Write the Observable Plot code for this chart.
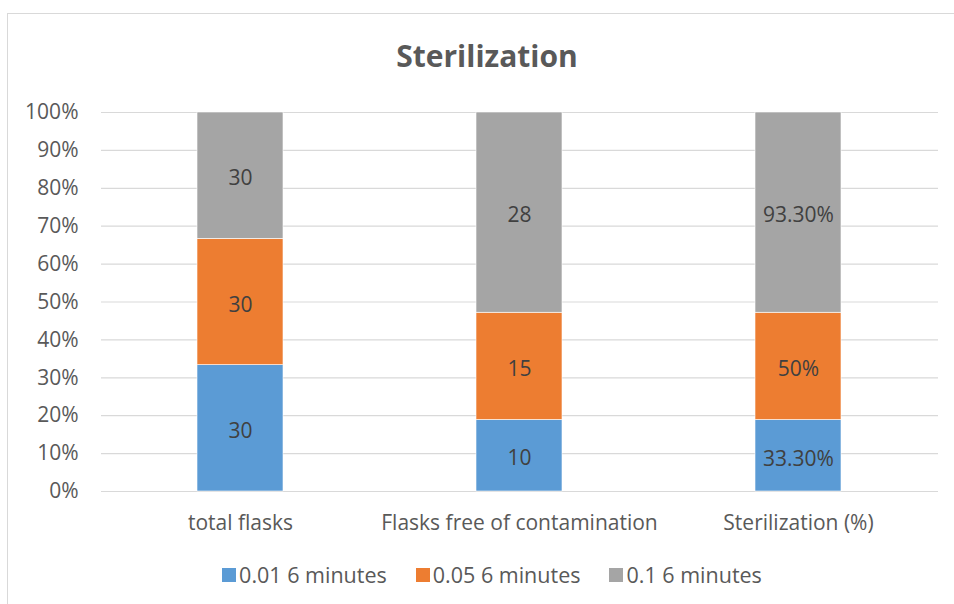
<!DOCTYPE html>
<html>
<head>
<meta charset="utf-8">
<script src="https://cdn.jsdelivr.net/npm/d3@7"></script>
<script src="https://cdn.jsdelivr.net/npm/@observablehq/plot@0.6"></script>
<style>
  body { margin: 0; background: #fff; }
  #wrap { position: relative; width: 954px; height: 604px; overflow: hidden; font-family: "Open Sans", sans-serif; }
  #frame { position: absolute; left: 7px; top: 13px; width: 980px; height: 620px; border-left: 1px solid #d9d9d9; border-top: 1px solid #d9d9d9; }
  #title { position: absolute; left: 0; width: 974px; top: 35px; text-align: center; font-size: 30px; line-height: 42px; font-weight: bold; color: #595959; }
  #chart { position: absolute; left: 0; top: 0; }
  #legend { position: absolute; top: 560px; left: 0; width: 954px; display: flex; justify-content: center; gap: 29px; font-size: 21.5px; line-height: 30px; color: #595959; padding-left: 30px; box-sizing: border-box; }
  .item { display: flex; align-items: center; }
  .sw { width: 14px; height: 14px; margin-right: 3px; }
</style>
</head>
<body>
<div id="wrap">
  <div id="frame"></div>
  <div id="chart"></div>
  <div id="title">Sterilization</div>
  <div id="legend"></div>
</div>
<script>
const categories = ["total flasks", "Flasks free of contamination", "Sterilization (%)"];
const seriesNames = ["0.01 6 minutes", "0.05 6 minutes", "0.1 6 minutes"];
const seriesColors = ["#5B9BD5", "#ED7D31", "#A5A5A5"];
const values001 = [30, 10, 33.3];
const values005 = [30, 15, 50];
const values01 = [30, 28, 93.3];
const labels001 = ["30", "10", "33.30%"];
const labels005 = ["30", "15", "50%"];
const labels01 = ["30", "28", "93.30%"];
const yTicks = [0, 0.1, 0.2, 0.3, 0.4, 0.5, 0.6, 0.7, 0.8, 0.9, 1];

const seriesValues = [values001, values005, values01];
const seriesLabels = [labels001, labels005, labels01];
const data = [];
seriesNames.forEach((s, si) => {
  categories.forEach((c, ci) => {
    data.push({category: c, series: s, value: seriesValues[si][ci], label: seriesLabels[si][ci]});
  });
});

const chart = Plot.plot({
  width: 954,
  height: 604,
  marginTop: 112,
  marginBottom: 113,
  marginLeft: 101,
  marginRight: 16,
  style: {fontFamily: "Open Sans, sans-serif", fontSize: "21px", color: "#595959", background: "transparent"},
  x: {domain: categories, paddingInner: 0.69, paddingOuter: 0.345, label: null},
  y: {domain: [0, 1], label: null},
  color: {domain: seriesNames, range: seriesColors},
  marks: [
    Plot.gridY(yTicks, {stroke: "#d9d9d9", strokeOpacity: 1, strokeWidth: 1.2}),
    Plot.barY(data, Plot.stackY({offset: "normalize", x: "category", y: "value", fill: "series", z: "series", stroke: "white", strokeWidth: 0.6})),
    Plot.text(data, Plot.stackY({offset: "normalize", x: "category", y: "value", z: "series", text: "label", fill: "#404040", fontSize: 21, dy: 3})),
    Plot.axisY(yTicks, {tickFormat: d3.format(".0%"), tickSize: 0, tickPadding: 23, fill: "#595959", fontSize: 21}),
    Plot.axisX({tickSize: 0, tickPadding: 24, fill: "#595959", fontSize: 21})
  ]
});
document.getElementById("chart").appendChild(chart);

const legend = document.getElementById("legend");
seriesNames.forEach((s, i) => {
  const it = document.createElement("div");
  it.className = "item";
  const sw = document.createElement("div");
  sw.className = "sw";
  sw.style.background = seriesColors[i];
  const t = document.createElement("span");
  t.textContent = s;
  it.appendChild(sw);
  it.appendChild(t);
  legend.appendChild(it);
});
</script>
</body>
</html>
